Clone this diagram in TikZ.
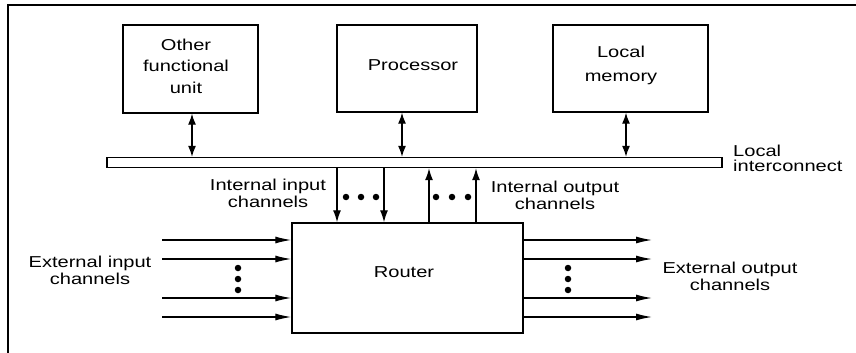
\documentclass[tikz,border=0pt]{standalone}
\usepackage{fontspec}
\setmainfont{Liberation Sans}[FakeStretch=1.27]
\usetikzlibrary{arrows.meta}
\begin{document}
\begin{tikzpicture}[x=1pt,y=-1pt,
  box/.style={draw,line width=1.4pt,inner sep=0pt},
  ln/.style={line width=1.3pt},
  arr/.style={ln,-{Latex[length=12pt,width=8pt]}},
  harr/.style={ln,-{Latex[length=16pt,width=7pt]}},
  dbl/.style={ln,{Latex[length=11pt,width=8pt]}-{Latex[length=11pt,width=8pt]}},
  dotc/.style={circle,fill,inner sep=0pt,minimum size=6.5pt},
  lbl/.style={inner sep=0pt,align=center,font=\fontsize{15.8pt}{17pt}\selectfont},
  btxt/.style={inner sep=0pt,align=center,font=\fontsize{15.8pt}{21.5pt}\selectfont},
]
\fill[white] (0,0) rectangle (856,353);
\useasboundingbox (0,0) rectangle (856,353);
\draw[line width=1.2pt] (8,353) -- (8,5) -- (856,5);

% boxes
\node[box,minimum width=135pt,minimum height=88pt] (ofu) at (190.5,69) {};
\node[box,minimum width=140pt,minimum height=87pt] (proc) at (407,68.5) {};
\node[box,minimum width=155pt,minimum height=87pt] (mem) at (630.5,68.5) {};
\node[box,minimum width=615pt,minimum height=10pt] (bus) at (414.5,162.5) {};
\node[box,minimum width=231pt,minimum height=110pt] (router) at (407.5,278) {};

% texts
\node[btxt] (ofut) at (186,65.9) {Other\\functional\\unit};
\node[btxt] (proct) at (413,65) {Processor};
\node[btxt,font=\fontsize{15.8pt}{24pt}\selectfont] (memt) at (621,65.5) {Local\\memory};
\node[lbl,anchor=west,align=left,font=\fontsize{15.8pt}{15pt}\selectfont] (bust) at (733,158.8) {Local\\interconnect};
\node[lbl] (iin) at (268,193.4) {Internal input\\channels};
\node[lbl] (iout) at (555,194.9) {Internal output\\channels};
\node[lbl] (ein) at (90,270.4) {External input\\channels};
\node[lbl] (eout) at (730,276.8) {External output\\channels};
\node[btxt] (rt) at (404,272.3) {Router};

% guides
\coordinate (xofu) at (192,0);
\coordinate (xproc) at (402,0);
\coordinate (xmem) at (626,0);
\coordinate (xi1) at (337,0);
\coordinate (xi2) at (384,0);
\coordinate (xo1) at (429,0);
\coordinate (xo2) at (476,0);
\coordinate (xin) at (162,0);
\coordinate (xout) at (652,0);
\coordinate (y1) at (0,240);
\coordinate (y2) at (0,259);
\coordinate (y3) at (0,298);
\coordinate (y4) at (0,317);

% bus connections
\draw[dbl] (ofu.south -| xofu) -- (bus.north -| xofu);
\draw[dbl] (proc.south -| xproc) -- (bus.north -| xproc);
\draw[dbl] (mem.south -| xmem) -- (bus.north -| xmem);

% internal channels
\draw[arr] (bus.south -| xi1) -- (router.north -| xi1);
\draw[arr] (bus.south -| xi2) -- (router.north -| xi2);
\draw[arr] (router.north -| xo1) -- (bus.south -| xo1);
\draw[arr] (router.north -| xo2) -- (bus.south -| xo2);

% external channels
\foreach \yy in {y1,y2,y3,y4}{
  \draw[harr] (xin |- \yy) -- (router.west |- \yy);
  \draw[harr] (router.east |- \yy) -- (xout |- \yy);
}

% dots
\foreach \xx in {346,361,376,436,452,468}{
  \node[dotc] (d\xx) at (\xx,197) {};
}
\foreach \yy in {268,279,290}{
  \node[dotc] (l\yy) at (238,\yy) {};
  \node[dotc] (r\yy) at (568,\yy) {};
}
\end{tikzpicture}
\end{document}
